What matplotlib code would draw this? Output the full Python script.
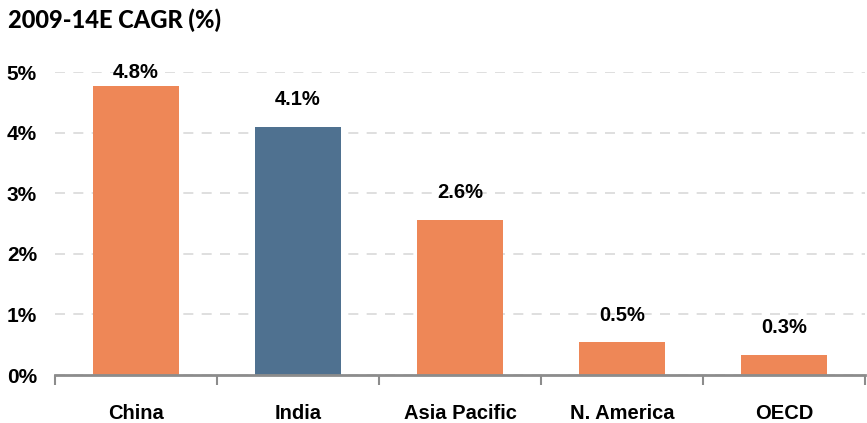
import numpy as np
import matplotlib.pyplot as plt
from matplotlib.ticker import FuncFormatter

regions = ['China', 'India', 'Asia Pacific', 'N. America', 'OECD']
cagr = [4.77, 4.09, 2.56, 0.54, 0.33]
bar_colors = ['#EE8757', '#4F7190', '#EE8757', '#EE8757', '#EE8757']

plt.rcParams['font.family'] = ['Liberation Sans', 'DejaVu Sans']

fig = plt.figure(figsize=(8.67, 4.23), dpi=100)
ax = fig.add_axes([55 / 867, 48 / 423, 810 / 867, 303 / 423])

x = np.arange(len(regions))
ax.bar(x, cagr, width=0.53, color=bar_colors, zorder=3)

# value labels, kept inside the top gridline
for xi, v in zip(x, cagr):
    ax.text(xi, min(v + 0.45, 5.0), f'{v:.1f}%', ha='center', va='center',
            fontsize=14.5, fontweight='bold', zorder=4, clip_on=False)

ax.set_xlim(-0.5, len(regions) - 0.5)
ax.set_ylim(0, 5)
ax.set_yticks(range(0, 6))
ax.yaxis.set_major_formatter(FuncFormatter(lambda v, _: f'{v:.0f}%'))
ax.yaxis.grid(True, linestyle=(0, (6, 5)), color='#D9D9D9', linewidth=1.2, zorder=0)
ax.tick_params(axis='y', length=0, pad=13, labelsize=15)
for lbl in ax.get_yticklabels():
    lbl.set_fontweight('bold')

ax.set_xticks(x)
ax.set_xticklabels(regions, fontsize=14.5, fontweight='bold')
ax.set_xticks(np.arange(-0.5, len(regions), 1.0), minor=True)
ax.tick_params(axis='x', which='major', length=0, pad=21)
ax.tick_params(axis='x', which='minor', length=7, width=1.5, color='#8C8C8C', direction='out')

for side in ['top', 'right', 'left']:
    ax.spines[side].set_visible(False)
ax.spines['bottom'].set_color('#8C8C8C')
ax.spines['bottom'].set_linewidth(2)
ax.spines['bottom'].set_zorder(5)

fig.text(8 / 867, 1 - 20 / 423, '2009-14E CAGR (%)', fontsize=17, fontweight='black',
         family=['Lato', 'DejaVu Sans'], va='center', ha='left')

fig.savefig('out.png', dpi=100)
